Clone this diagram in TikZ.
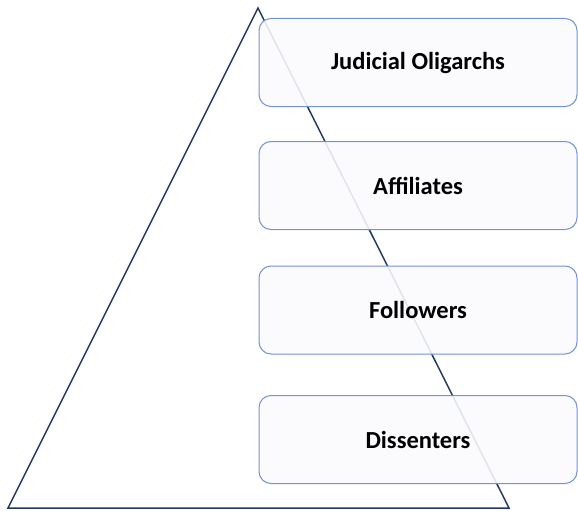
\documentclass[tikz,border=0pt]{standalone}
\usepackage{fontspec}
\setmainfont{Carlito}
\definecolor{navy}{HTML}{203864}
\definecolor{boxline}{HTML}{7293D4}
\definecolor{boxfill}{HTML}{FAFBFD}
\begin{document}
\begin{tikzpicture}[x=1pt,y=-1pt,
  tier/.style={draw=boxline, line width=1pt, fill=boxfill, fill opacity=0.88, text opacity=1,
    rounded corners=12pt, minimum width=318pt, minimum height=88pt, inner sep=0pt,
    font=\bfseries\fontsize{24.5}{28}\selectfont, text=black},
  tri/.style={draw=navy, line width=1.5pt, line join=miter}]
\useasboundingbox (0,0) rectangle (578,511);
\coordinate (apex) at (258,8);
\coordinate (bl) at (8,508);
\coordinate (br) at (509,508);
\draw[tri] (apex) -- (bl) -- (br) -- cycle;
\node[tier] (t1) at (418,62.5) {Judicial Oligarchs};
\node[tier] (t2) at (418,185.5) {Affiliates};
\node[tier] (t3) at (418,310) {Followers};
\node[tier] (t4) at (418,439.5) {Dissenters};
\end{tikzpicture}
\end{document}
